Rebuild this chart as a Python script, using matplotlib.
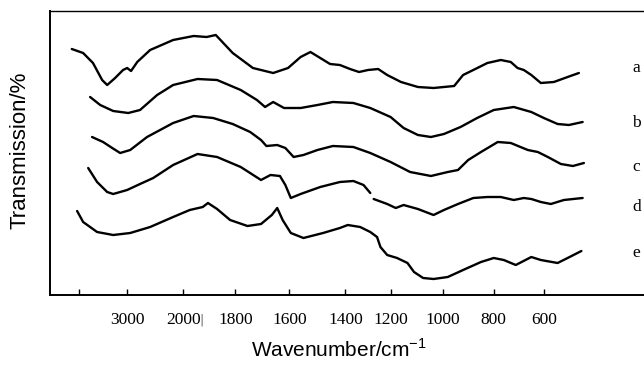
import matplotlib
matplotlib.use("Agg")
import matplotlib.pyplot as plt
import numpy as np

plt.rcParams['mathtext.fontset'] = 'custom'
plt.rcParams['mathtext.rm'] = 'Liberation Sans'

# IR spectra, wavenumber (cm-1) and transmission (arbitrary, offset per trace)
a_wn = [4150, 3915, 3710, 3520, 3415, 3250, 3085, 3000, 2930, 2820, 2590, 2180, 1960, 1910, 1875,
        1810, 1735, 1660, 1605, 1560, 1525, 1490, 1455, 1420, 1380, 1340, 1300, 1255, 1215, 1160,
        1095, 1035, 955, 920, 880, 825, 772, 732, 705, 680, 650, 612, 560, 505, 460]
a_t = [251, 247, 237, 220, 215, 222, 230, 232, 229, 238, 250, 260, 264, 263, 265,
       247, 232, 227, 232, 243, 248, 242, 236, 235, 231, 228, 230, 231, 225, 218,
       213, 212, 214, 225, 230, 237, 240, 238, 232, 230, 225, 217, 218, 223, 227]

b_wn = [3770, 3560, 3290, 2980, 2770, 2465, 2180, 1945, 1870, 1780, 1720, 1690, 1660, 1620, 1560,
        1500, 1445, 1365, 1290, 1200, 1150, 1095, 1045, 995, 930, 865, 800, 720, 650, 600, 545, 500, 445]
b_t = [203, 195, 189, 187, 190, 205, 215, 221, 220, 210, 200, 193, 198, 192, 192,
       195, 198, 197, 192, 183, 172, 165, 163, 166, 173, 182, 190, 193, 188, 182, 176, 175, 178]

c_wn = [3730, 3500, 3310, 3145, 2945, 2645, 2180, 1960, 1885, 1810, 1745, 1705, 1685, 1645, 1615,
        1585, 1550, 1500, 1445, 1365, 1290, 1200, 1125, 1045, 980, 940, 900, 850, 784, 732, 664,
        624, 584, 532, 484, 440]
c_t = [163, 158, 152, 147, 150, 163, 177, 184, 182, 176, 168, 160, 154, 155, 152,
       143, 145, 150, 154, 153, 147, 138, 128, 124, 128, 130, 140, 148, 158, 157, 150,
       148, 143, 136, 134, 137]

# trace d is broken near 1280 cm-1
d1_wn = [3810, 3625, 3415, 3290, 3000, 2770, 2535, 2180, 1945, 1870, 1780, 1705, 1670, 1635, 1615,
         1595, 1560, 1490, 1420, 1365, 1320, 1290]
d1_t = [132, 118, 108, 106, 110, 116, 122, 135, 146, 143, 133, 120, 125, 124, 115,
        102, 106, 113, 118, 119, 115, 107]
d2_wn = [1275, 1215, 1180, 1150, 1095, 1035, 995, 940, 880, 825, 772, 720, 680, 650, 612, 572, 520, 445]
d2_t = [101, 96, 92, 95, 91, 85, 90, 96, 102, 103, 103, 100, 102, 101, 98, 96, 100, 102]

e_wn = [4040, 3915, 3625, 3290, 2945, 2590, 2180, 1975, 1925, 1905, 1870, 1820, 1755, 1705, 1665,
        1645, 1625, 1595, 1550, 1480, 1420, 1390, 1335, 1290, 1260, 1245, 1215, 1175, 1135, 1110,
        1075, 1035, 980, 920, 850, 800, 760, 712, 650, 612, 545, 505, 450]
e_t = [89, 78, 68, 65, 67, 73, 83, 90, 93, 97, 91, 80, 74, 76, 85,
       92, 80, 67, 62, 67, 72, 75, 73, 68, 63, 53, 45, 42, 37, 28,
       22, 21, 23, 30, 38, 42, 40, 35, 43, 40, 37, 42, 49]

labels = ['a', 'b', 'c', 'd', 'e']
label_t = [232, 177, 133, 93, 47]

tick_wn = [4000, 3000, 2000, 1800, 1600, 1400, 1200, 1000, 800, 600]
tick_lbl = ['', '3000', '2000', '1800', '1600', '1400', '1200', '1000', '800', '600']

# piecewise-linear wavenumber scale (expanded below 2000 cm-1)
scale_wn = [200, 600, 800, 1000, 1200, 1400, 1600, 1800, 2000, 3000, 4000, 4600]
scale_pos = [-643, -543, -493, -442, -390, -345, -289, -235, -183, -127, -79, -50]


def fwd(w):
    return np.interp(w, scale_wn, scale_pos)


def inv(p):
    return np.interp(p, scale_pos, scale_wn)


fig = plt.figure(figsize=(6.44, 3.66), dpi=100)
ax = fig.add_axes([50 / 644, 71 / 366, 594 / 644, 284 / 366])
ax.set_xscale('function', functions=(fwd, inv))

kw = dict(color='black', lw=1.7, solid_capstyle='round', solid_joinstyle='round')
ax.plot(a_wn, a_t, **kw)
ax.plot(b_wn, b_t, **kw)
ax.plot(c_wn, c_t, **kw)
ax.plot(d1_wn, d1_t, **kw)
ax.plot(d2_wn, d2_t, **kw)
ax.plot(e_wn, e_t, **kw)

ax.set_xlim(4600, 200)
ax.set_ylim(5, 289)

for lb, t in zip(labels, label_t):
    ax.text(0.987, t, lb, transform=ax.get_yaxis_transform(), ha='center', va='center',
            family='Liberation Serif', fontsize=12.5)

ax.set_xticks(tick_wn)
ax.set_xticklabels(tick_lbl, family='Liberation Serif', fontsize=12.5)
ax.tick_params(axis='x', direction='in', length=4, width=1, pad=12, top=False)
ax.set_yticks([])
ax.text(1930, -0.088, '|', transform=ax.get_xaxis_transform(), ha='center', va='center',
        fontsize=9, color='0.4')

ax.spines['right'].set_visible(False)
ax.spines['left'].set_linewidth(1.4)
ax.spines['bottom'].set_linewidth(1.4)
ax.spines['top'].set_linewidth(1.0)

fig.text(0.031, 0.59, 'Transmission/%', rotation=90, ha='center', va='center',
         family='Liberation Sans', fontsize=16)
fig.text(0.526, 0.044, 'Wavenumber/cm$^{-1}$', ha='center', va='center',
         family='Liberation Sans', fontsize=15)

fig.savefig('out.png', dpi=100)
